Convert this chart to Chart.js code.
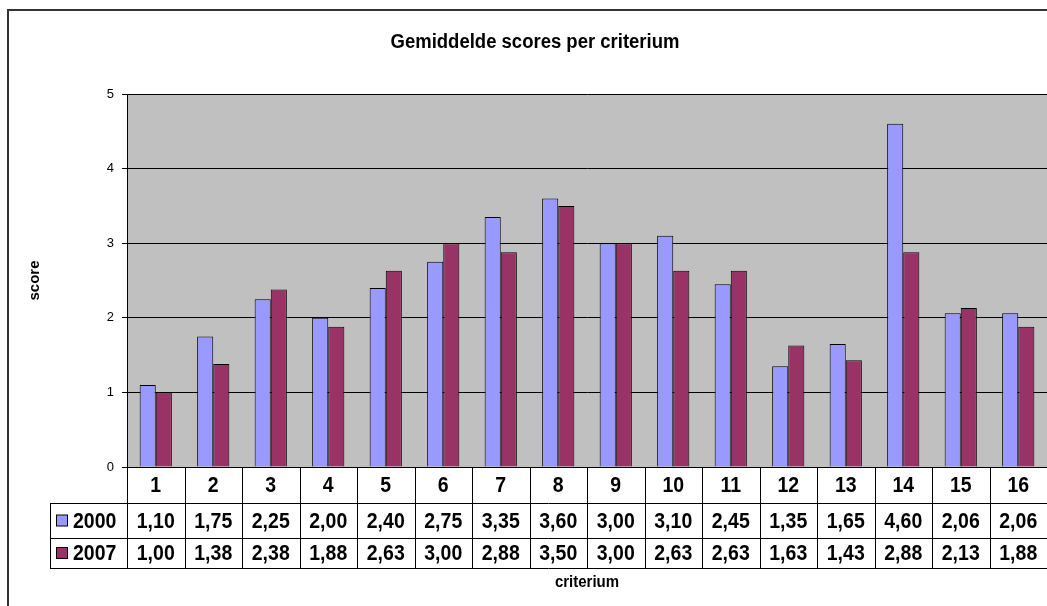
<!DOCTYPE html>
<html>
<head>
<meta charset="utf-8">
<script src="https://cdn.jsdelivr.net/npm/chart.js@4/dist/chart.umd.min.js"></script>
<style>
  html, body { margin: 0; padding: 0; background: #fff; }
  #wrap { width: 1047px; height: 606px; position: relative; }
</style>
</head>
<body>
<div id="wrap"><canvas id="scoreChart" width="1047" height="606"></canvas></div>
<script>
const categories = ['1', '2', '3', '4', '5', '6', '7', '8', '9', '10', '11', '12', '13', '14', '15', '16'];
const scores2000 = [1.10, 1.75, 2.25, 2.00, 2.40, 2.75, 3.35, 3.60, 3.00, 3.10, 2.45, 1.35, 1.65, 4.60, 2.06, 2.06];
const scores2007 = [1.00, 1.38, 2.38, 1.88, 2.63, 3.00, 2.88, 3.50, 3.00, 2.63, 2.63, 1.63, 1.43, 2.88, 2.13, 1.88];
const seriesNames = ['2000', '2007'];
const seriesColors = ['#9999FF', '#993366'];

const FONT = 'Arial, "Liberation Sans", sans-serif';
const fmt = v => v.toFixed(2).replace('.', ',');

// text in the original is a bit stretched vertically
function tallText(ctx, text, x, y, sy) {
    ctx.save();
    ctx.translate(x, y);
    ctx.scale(1, sy);
    ctx.fillText(text, 0, 0);
    ctx.restore();
}

// frame, plot background, title and the data table under the plot
const excelPlugin = {
    id: 'excelLook',
    beforeDraw(chart) {
        const { ctx, chartArea: a } = chart;
        ctx.save();
        ctx.fillStyle = '#C0C0C0';
        ctx.fillRect(a.left, a.top, a.right - a.left, a.bottom - a.top);
        ctx.strokeStyle = '#333';
        ctx.lineWidth = 2;
        ctx.strokeRect(8, 10, 1200, 800);
        ctx.fillStyle = '#000';
        ctx.font = 'bold 18.5px ' + FONT;
        ctx.textAlign = 'center';
        ctx.textBaseline = 'middle';
        tallText(ctx, 'Gemiddelde scores per criterium', (a.left + a.right) / 2 - 52, 42, 1.12);
        ctx.restore();
    },
    afterDraw(chart) {
        const { ctx, chartArea: a } = chart;
        const x = chart.scales.x;
        const rows = [a.bottom, 503, 538, 568];
        const tableLeft = 50;
        ctx.save();
        ctx.strokeStyle = '#000';
        ctx.lineWidth = 1;
        ctx.beginPath();
        for (let i = 1; i < rows.length; i++) {
            ctx.moveTo(tableLeft, rows[i] + 0.5);
            ctx.lineTo(a.right, rows[i] + 0.5);
        }
        ctx.moveTo(a.left + 0.5, a.bottom);
        ctx.lineTo(a.left + 0.5, rows[3]);
        ctx.moveTo(tableLeft + 0.5, rows[1]);
        ctx.lineTo(tableLeft + 0.5, rows[3]);
        const w = (a.right - a.left) / categories.length;
        for (let i = 1; i <= categories.length; i++) {
            const bx = Math.round(a.left + i * w) + 0.5;
            ctx.moveTo(bx, a.bottom);
            ctx.lineTo(bx, rows[3]);
        }
        ctx.stroke();

        ctx.fillStyle = '#000';
        ctx.font = 'bold 19.5px ' + FONT;
        ctx.textAlign = 'center';
        ctx.textBaseline = 'middle';
        const series = [scores2000, scores2007];
        categories.forEach((c, i) => {
            const cx = x.getPixelForValue(i);
            tallText(ctx, c, cx, (rows[0] + rows[1]) / 2 + 1, 1.12);
            series.forEach((s, j) => {
                tallText(ctx, fmt(s[i]), cx, (rows[j + 1] + rows[j + 2]) / 2 + 1, 1.12);
            });
        });

        ctx.textAlign = 'left';
        seriesNames.forEach((name, j) => {
            const cy = (rows[j + 1] + rows[j + 2]) / 2;
            ctx.fillStyle = seriesColors[j];
            ctx.fillRect(56.5, cy - 5.5, 11, 11);
            ctx.strokeStyle = '#000';
            ctx.strokeRect(56.5, cy - 5.5, 11, 11);
            ctx.fillStyle = '#000';
            tallText(ctx, name, 73, cy + 1, 1.12);
        });

        ctx.font = 'bold 15px ' + FONT;
        ctx.textAlign = 'center';
        tallText(ctx, 'criterium', (a.left + a.right) / 2, 582, 1.1);
        ctx.restore();
    }
};

new Chart(document.getElementById('scoreChart'), {
    type: 'bar',
    data: {
        labels: categories,
        datasets: [{
            label: seriesNames[0],
            data: scores2000,
            backgroundColor: seriesColors[0],
            borderColor: '#000',
            borderWidth: 1,
            borderSkipped: 'bottom'
        }, {
            label: seriesNames[1],
            data: scores2007,
            backgroundColor: seriesColors[1],
            borderColor: '#000',
            borderWidth: 1,
            borderSkipped: 'bottom'
        }]
    },
    options: {
        responsive: false,
        animation: false,
        devicePixelRatio: 1,
        layout: { padding: { left: 8, top: 94, right: 0, bottom: 139 } },
        datasets: { bar: { categoryPercentage: 0.56, barPercentage: 1 } },
        plugins: {
            legend: { display: false },
            title: { display: false },
            tooltip: { enabled: false }
        },
        scales: {
            x: { display: false },
            y: {
                min: 0,
                max: 5,
                afterFit: s => { s.width = 119; },
                ticks: {
                    stepSize: 1,
                    padding: 8,
                    color: '#000',
                    font: { family: FONT, size: 13 }
                },
                grid: { color: '#000', tickLength: 5, tickColor: '#000' },
                border: { color: '#000' },
                title: {
                    display: true,
                    text: 'score',
                    color: '#000',
                    padding: { top: 18 },
                    font: { family: FONT, size: 15, weight: 'bold' }
                }
            }
        }
    },
    plugins: [excelPlugin]
});
</script>
</body>
</html>
